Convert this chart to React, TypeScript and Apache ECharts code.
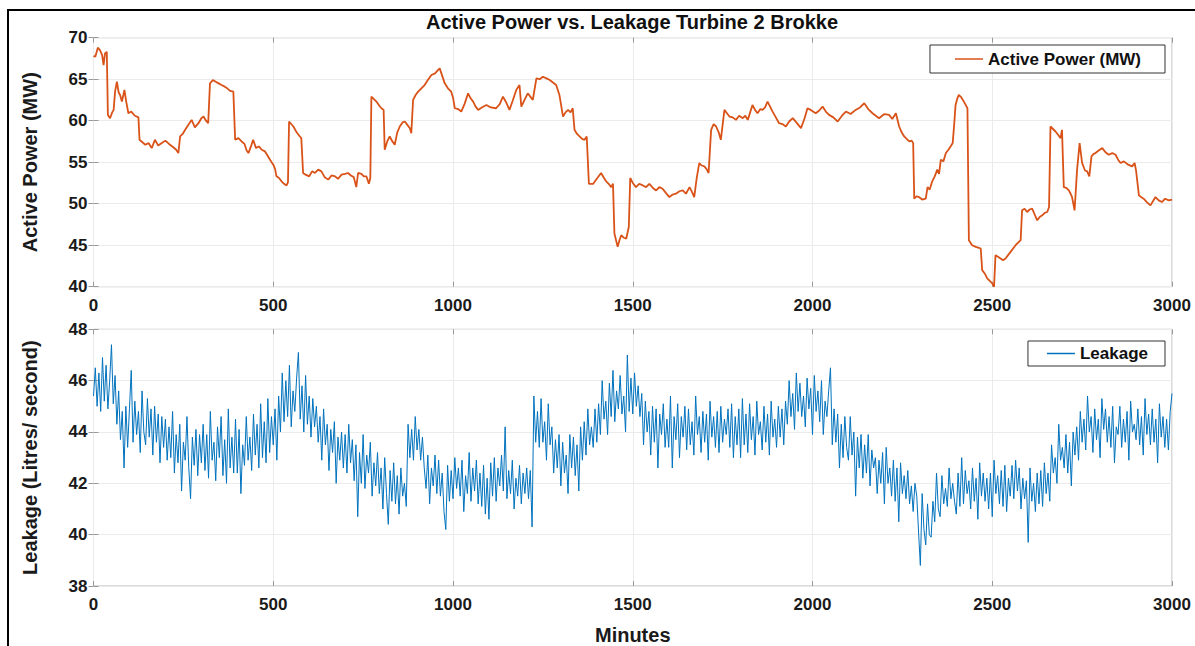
import React, { useEffect, useRef } from "react";
import * as echarts from "echarts";

const titleText = "Active Power vs. Leakage Turbine 2 Brokke";
const powerName = "Active Power (MW)";
const leakName = "Leakage";
const powerAxisName = "Active Power (MW)";
const leakAxisName = "Leakage (Litres/ second)";
const xAxisName = "Minutes";

// Active power: [minute, MW]
const powerData: number[][] = [
  [0,67.8],[5,67.7],[12,68.8],[18,68.5],[24,67.9],[28,66.7],[32,68.1],[37,68.3],[40,60.7],[46,60.3],[52,61.0],[56,61.3],[60,63.5],[65,64.7],[70,63.4],[74,63.1],[79,62.3],[86,63.7],[91,62.3],[97,60.9],[105,61.1],[115,60.6],[125,60.4],[128,57.7],[136,57.4],[144,57.1],[153,57.3],[162,56.7],[171,57.7],[180,57.0],[190,57.3],[200,57.6],[210,57.2],[222,56.8],[230,56.5],[236,56.1],[241,58.1],[248,58.4],[255,58.9],[264,59.5],[273,60.1],[282,59.2],[292,59.7],[300,60.3],[306,60.5],[313,60.0],[319,59.7],[324,64.5],[332,64.9],[340,64.7],[348,64.5],[356,64.3],[365,64.1],[372,63.9],[380,63.6],[389,63.5],[394,57.7],[403,57.9],[412,57.5],[420,57.2],[426,56.4],[431,56.1],[438,56.9],[444,57.7],[452,56.7],[460,56.9],[468,56.5],[477,56.3],[484,55.8],[491,55.3],[500,54.7],[505,54.2],[509,53.3],[516,53.1],[523,52.7],[530,52.4],[537,52.2],[541,52.6],[544,59.9],[550,59.6],[556,59.3],[565,58.6],[574,58.1],[578,57.9],[583,53.7],[590,53.5],[600,53.3],[608,53.9],[616,53.7],[625,54.1],[634,53.9],[643,53.2],[653,52.9],[662,53.4],[672,53.3],[680,53.0],[690,53.5],[700,53.6],[708,53.7],[716,53.4],[724,53.2],[731,52.0],[736,53.7],[745,53.6],[752,53.3],[759,53.3],[766,52.4],[770,53.1],[773,62.9],[780,62.6],[787,62.3],[795,61.8],[801,61.5],[807,61.3],[810,56.5],[817,57.5],[824,58.1],[830,57.6],[838,57.1],[845,58.6],[852,59.3],[860,59.8],[866,59.9],[873,59.5],[880,59.1],[884,58.5],[889,62.5],[896,63.1],[903,63.5],[912,63.9],[921,64.3],[930,64.9],[940,65.5],[950,65.7],[958,66.1],[963,66.3],[970,65.4],[977,64.5],[986,63.9],[995,63.5],[1000,62.8],[1005,61.5],[1014,61.4],[1023,61.1],[1032,62.0],[1042,63.3],[1049,62.7],[1056,62.3],[1063,61.7],[1070,61.3],[1080,61.6],[1093,61.9],[1105,61.6],[1120,61.5],[1130,62.0],[1139,62.9],[1148,62.2],[1157,61.3],[1166,62.4],[1176,63.7],[1185,64.3],[1190,61.7],[1200,62.6],[1208,63.3],[1215,62.9],[1222,62.5],[1232,65.1],[1241,65.0],[1250,65.3],[1260,65.1],[1269,64.9],[1278,64.6],[1287,64.3],[1296,63.1],[1306,60.5],[1313,61.0],[1320,61.3],[1327,61.0],[1333,61.5],[1338,58.9],[1345,58.4],[1352,58.1],[1359,57.8],[1366,57.7],[1372,58.1],[1378,52.4],[1390,52.4],[1400,53.0],[1412,53.7],[1420,53.1],[1426,52.7],[1433,52.4],[1440,52.0],[1445,52.4],[1449,46.4],[1458,44.8],[1463,45.6],[1468,46.2],[1475,45.9],[1482,45.8],[1489,47.2],[1493,53.1],[1500,52.5],[1509,52.0],[1518,52.4],[1528,52.2],[1537,52.0],[1546,52.4],[1556,51.9],[1565,51.6],[1574,52.0],[1583,51.8],[1592,51.3],[1602,50.8],[1611,51.1],[1620,51.2],[1630,51.5],[1639,51.6],[1648,51.2],[1658,52.0],[1665,51.4],[1671,50.8],[1678,53.1],[1685,54.9],[1692,54.6],[1699,54.5],[1705,54.2],[1711,53.7],[1718,58.9],[1725,59.6],[1732,59.3],[1739,58.6],[1745,57.7],[1755,61.3],[1762,60.9],[1769,60.5],[1778,60.4],[1787,60.1],[1796,60.6],[1806,60.3],[1813,60.6],[1820,60.1],[1833,61.9],[1840,61.3],[1847,60.9],[1855,61.4],[1861,61.3],[1868,61.6],[1875,62.3],[1882,61.7],[1889,61.1],[1898,60.4],[1907,59.7],[1916,59.6],[1926,59.3],[1935,59.9],[1945,60.3],[1955,59.8],[1968,59.1],[1978,60.3],[1986,61.5],[1995,61.3],[2009,60.9],[2018,61.2],[2028,61.7],[2037,61.1],[2046,60.7],[2058,60.4],[2070,59.9],[2082,60.6],[2093,61.1],[2106,60.8],[2120,61.3],[2132,61.6],[2144,62.1],[2155,61.4],[2167,60.9],[2176,60.6],[2185,60.3],[2200,60.8],[2213,60.7],[2222,60.2],[2232,60.9],[2241,59.3],[2248,58.6],[2255,58.1],[2262,57.8],[2269,57.5],[2276,57.6],[2280,57.3],[2283,50.6],[2290,50.9],[2296,50.8],[2305,50.5],[2315,50.6],[2320,52.0],[2326,51.7],[2333,52.7],[2340,53.3],[2347,54.1],[2352,53.6],[2357,55.3],[2364,55.1],[2371,56.1],[2378,56.5],[2384,56.9],[2390,57.3],[2394,59.5],[2398,61.9],[2403,62.7],[2407,63.1],[2414,62.8],[2421,62.3],[2426,61.9],[2431,61.5],[2435,45.6],[2444,45.0],[2454,44.8],[2461,44.7],[2468,44.6],[2472,42.0],[2479,41.6],[2486,41.0],[2493,40.7],[2500,40.4],[2505,40.0],[2509,43.8],[2516,43.6],[2523,43.4],[2530,43.2],[2537,43.4],[2544,43.8],[2551,44.2],[2558,44.6],[2565,45.0],[2572,45.3],[2579,45.6],[2583,49.2],[2590,49.4],[2597,49.0],[2604,49.3],[2611,49.4],[2618,48.7],[2625,48.0],[2632,48.4],[2639,48.6],[2646,48.9],[2653,49.0],[2658,49.6],[2662,59.3],[2669,59.0],[2676,58.7],[2683,58.3],[2690,57.9],[2694,58.9],[2699,52.0],[2706,51.9],[2713,51.6],[2718,51.2],[2722,50.8],[2729,49.2],[2736,54.1],[2743,57.3],[2750,54.9],[2758,54.0],[2764,53.9],[2770,53.3],[2776,55.7],[2782,56.0],[2787,56.1],[2796,56.4],[2806,56.7],[2815,56.2],[2824,55.9],[2834,56.1],[2843,55.9],[2850,55.3],[2857,54.9],[2866,55.1],[2878,54.7],[2889,54.5],[2896,54.9],[2900,54.0],[2908,51.0],[2914,50.8],[2921,50.6],[2930,50.2],[2940,49.8],[2947,50.3],[2954,50.8],[2963,50.4],[2972,50.2],[2981,50.6],[2991,50.4],[3000,50.5]
];

// Leakage sampled every 5 minutes (0..3000), litres/second; one row = 100 minutes
const leakStep = 5;
const leakValues: number[] = [
  45.4,46.5,45.0,46.3,44.8,46.9,45.2,46.6,44.9,46.0,47.4,45.1,46.2,44.3,45.6,43.7,44.8,42.6,45.0,43.4,
  44.9,46.4,43.6,45.2,43.9,44.8,43.2,45.6,44.0,43.5,45.3,43.8,44.9,43.1,45.0,43.6,44.7,42.8,44.6,43.4,
  44.5,42.9,44.2,43.0,44.8,42.4,43.9,42.8,44.3,41.7,43.6,42.9,44.6,42.6,41.4,43.8,42.7,44.1,42.3,43.9,
  42.8,44.3,42.5,43.9,42.2,44.8,42.9,43.6,42.1,44.2,43.0,44.6,42.3,43.7,42.0,44.9,42.6,43.8,42.4,44.5,
  42.4,44.1,41.6,43.5,42.7,44.6,42.9,43.8,42.5,44.7,43.1,44.3,42.6,45.1,43.0,44.4,42.8,45.3,43.2,44.6,
  43.5,44.9,42.9,45.4,44.0,46.3,44.4,46.0,44.6,46.6,44.2,45.6,44.8,46.1,47.1,44.5,45.8,44.0,46.2,44.3,
  45.4,43.8,45.3,44.2,45.0,43.6,44.6,42.9,44.9,43.5,44.3,42.5,44.1,43.2,44.4,42.0,43.8,42.9,44.0,42.6,
  43.9,42.4,44.3,42.8,43.7,42.1,43.5,40.7,43.2,42.0,43.9,41.8,43.1,42.4,43.6,41.5,42.8,41.9,43.2,41.6,
  42.6,41.0,43.0,41.6,40.4,42.5,41.3,42.8,41.2,42.3,40.8,42.6,41.5,42.0,41.1,44.3,43.0,44.1,42.9,44.6,
  43.3,44.1,42.9,43.8,42.6,41.8,43.1,41.2,42.6,41.9,43.1,41.6,42.9,41.5,42.4,40.9,40.2,42.7,41.3,42.5,
  41.4,43.0,41.8,42.6,41.5,42.9,40.9,42.3,41.6,43.2,41.3,42.6,41.7,42.9,41.2,42.4,41.1,42.7,40.8,42.2,
  40.6,42.8,41.5,43.0,41.3,42.6,41.9,43.1,41.7,44.2,41.4,42.5,41.6,42.9,41.0,42.2,41.5,42.7,41.2,42.4,
  41.6,42.6,41.4,42.5,40.3,45.4,43.6,44.8,43.4,45.3,43.6,44.4,42.9,45.1,43.5,44.2,42.4,43.7,42.6,43.9,
  41.9,43.6,42.4,43.1,41.6,43.9,42.6,43.8,42.3,43.5,41.7,44.2,42.9,44.4,43.1,44.9,43.5,44.2,43.4,44.9,
  43.6,45.1,43.9,46.0,44.5,45.2,43.9,45.9,44.6,46.4,44.4,45.6,44.9,46.2,44.7,45.4,44.0,47.0,44.8,46.1,
  44.7,46.3,45.0,45.8,44.6,45.5,43.5,45.2,44.0,44.8,43.1,45.0,43.6,44.9,42.6,44.7,43.9,45.1,43.4,44.5,
  43.4,45.4,42.6,44.6,43.7,45.1,43.0,44.6,43.8,45.0,43.3,44.9,43.5,44.4,43.1,45.4,43.9,44.6,43.2,44.8,
  43.6,44.7,42.9,45.2,43.8,44.6,43.4,44.8,43.2,45.0,43.6,44.5,43.9,44.9,43.4,45.1,43.0,44.6,43.5,44.9,
  43.0,45.3,43.5,44.7,43.2,45.1,43.7,44.6,43.1,45.2,43.9,44.4,43.3,45.0,43.6,44.7,43.1,45.2,43.8,44.5,
  43.4,45.0,43.8,44.9,43.5,45.2,44.3,46.0,44.6,45.5,44.1,46.3,44.8,45.9,44.6,45.4,44.2,46.1,44.9,45.7,
  43.9,46.2,44.8,45.6,44.4,46.0,43.9,45.2,44.6,45.6,46.5,43.5,44.9,43.6,44.7,42.6,44.3,43.0,44.6,43.4,
  42.9,44.6,43.1,44.0,41.5,43.8,42.6,43.9,42.2,43.5,42.4,43.9,41.9,43.3,42.6,43.0,41.6,42.9,42.0,43.2,
  41.2,43.4,42.0,42.6,41.5,42.9,41.3,42.6,40.5,42.8,41.6,42.3,41.4,42.5,41.2,41.9,40.9,42.0,41.5,40.1,
  38.8,41.6,40.2,39.6,41.2,40.0,39.9,41.3,40.5,42.4,41.0,40.7,42.3,41.2,41.8,41.1,42.6,41.4,42.0,41.3,
  40.8,42.4,41.1,43.0,41.2,42.5,41.6,42.1,41.0,42.6,41.3,42.2,40.6,42.8,41.5,42.4,41.3,42.2,41.0,42.4,
  40.7,42.9,41.6,42.3,41.2,42.5,41.1,42.7,40.9,42.2,41.5,42.7,41.4,42.9,41.7,42.6,41.0,42.2,41.4,42.1,
  39.7,42.6,41.3,42.0,40.9,42.4,41.2,42.5,41.1,42.8,41.6,42.4,41.3,43.5,42.4,43.0,42.0,44.3,42.9,43.4,
  42.6,43.9,42.4,43.6,41.9,44.0,43.1,44.2,42.9,44.8,43.6,44.5,43.3,45.4,44.0,44.6,43.2,44.9,43.7,44.5,
  43.0,45.3,44.1,44.9,43.6,44.6,43.4,45.0,42.8,44.2,43.9,45.0,43.4,44.5,43.6,44.8,42.9,45.2,44.0,44.3,
  43.7,44.9,43.5,44.6,43.1,45.3,43.9,44.7,43.5,44.9,43.6,44.5,42.8,45.1,43.8,44.6,43.4,44.5,43.3,44.8,
  45.5
];

const xTicks = { min: 0, max: 3000, interval: 500 };
const powerTicks = { min: 40, max: 70, interval: 5 };
const leakTicks = { min: 38, max: 48, interval: 2 };

const ORANGE = "#D95319";
const BLUE = "#0072BD";
const FONT = "'Liberation Sans', Arial, Helvetica, sans-serif";

export default function App() {
  const ref = useRef<HTMLDivElement>(null);
  useEffect(() => {
    if (!ref.current) return;
    const chart = echarts.init(ref.current, undefined, { renderer: "svg" });
    const leakData = leakValues.map((v, i) => [i * leakStep, v]);

    const gridL = 93.5;
    const gridW = 1078.5;
    const grids = [
      { left: gridL, top: 37.7, width: gridW, height: 249, show: true, borderColor: "#b4b4b4", borderWidth: 1, backgroundColor: "#fff" },
      { left: gridL, top: 329.3, width: gridW, height: 258.4, show: true, borderColor: "#b4b4b4", borderWidth: 1, backgroundColor: "#fff" },
    ];
    const fmt = (v: number) => String(v);
    const tickLabel = { color: "#1a1a1a", fontFamily: FONT, fontWeight: "bold" as const, fontSize: 17, formatter: fmt };
    const splitLine = { show: true, lineStyle: { color: "#ebebeb", width: 1 } };
    const tick = { show: true, inside: true, length: 5, lineStyle: { color: "#9a9a9a" } };
    const nameStyle = { color: "#1a1a1a", fontFamily: FONT, fontWeight: "bold", fontSize: 20 };
    const mkX = (gi: number, withName: boolean) => ({
      type: "value",
      gridIndex: gi,
      ...xTicks,
      position: "bottom",
      axisLine: { show: false },
      axisTick: tick,
      axisLabel: { ...tickLabel, margin: 10 },
      splitLine,
      name: withName ? xAxisName : "",
      nameLocation: "middle",
      nameGap: 39,
      nameTextStyle: nameStyle,
    });
    const mkXTop = (gi: number) => ({
      type: "value",
      gridIndex: gi,
      ...xTicks,
      position: "top",
      axisLine: { show: false },
      axisTick: tick,
      axisLabel: { show: false },
      splitLine: { show: false },
    });
    const mkY = (gi: number, ticks: any, name: string) => ({
      type: "value",
      gridIndex: gi,
      ...ticks,
      position: "left",
      axisLine: { show: false },
      axisTick: tick,
      axisLabel: { ...tickLabel, margin: 6 },
      splitLine,
      name,
      nameLocation: "middle",
      nameGap: 54,
      nameTextStyle: nameStyle,
    });
    const mkYRight = (gi: number, ticks: any) => ({
      type: "value",
      gridIndex: gi,
      ...ticks,
      position: "right",
      axisLine: { show: false },
      axisTick: tick,
      axisLabel: { show: false },
      splitLine: { show: false },
    });

    const legendText = { color: "#111", fontFamily: FONT, fontWeight: "bold" as const, fontSize: 17, lineHeight: 18 };

    chart.setOption({
      animation: false,
      backgroundColor: "#fff",
      grid: grids,
      xAxis: [mkX(0, false), mkX(1, true), mkXTop(0), mkXTop(1)],
      yAxis: [mkY(0, powerTicks, powerAxisName), mkY(1, leakTicks, leakAxisName), mkYRight(0, powerTicks), mkYRight(1, leakTicks)],
      legend: [
        {
          data: [{ name: powerName, icon: "rect" }],
          right: 30,
          top: 45,
          itemWidth: 28,
          itemHeight: 1.5,
          itemGap: 5,
          padding: [5, 24, 5, 25],
          borderColor: "#333",
          borderWidth: 1,
          backgroundColor: "#fff",
          textStyle: legendText,
        },
        {
          data: [{ name: leakName, icon: "rect" }],
          right: 30,
          top: 341,
          itemWidth: 28,
          itemHeight: 1.5,
          itemGap: 5,
          padding: [3.5, 17, 3.5, 19],
          borderColor: "#333",
          borderWidth: 1,
          backgroundColor: "#fff",
          textStyle: legendText,
        },
      ],
      graphic: [
        {
          type: "polyline",
          shape: { points: [[8, 646], [8, 10], [1195, 10]] },
          style: { stroke: "#000", lineWidth: 2, fill: "none" },
          silent: true,
        },
        {
          type: "text",
          x: 632,
          y: 22,
          style: {
            text: titleText,
            fill: "#111",
            font: `bold 20px ${FONT}`,
            textAlign: "center",
            textVerticalAlign: "middle",
          },
        },
      ],
      series: [
        {
          name: powerName,
          type: "line",
          xAxisIndex: 0,
          yAxisIndex: 0,
          data: powerData,
          symbol: "none",
          lineStyle: { color: ORANGE, width: 1.8 },
          itemStyle: { color: ORANGE },
        },
        {
          name: leakName,
          type: "line",
          xAxisIndex: 1,
          yAxisIndex: 1,
          data: leakData,
          symbol: "none",
          lineStyle: { color: BLUE, width: 1 },
          itemStyle: { color: BLUE },
        },
      ],
    });
    return () => chart.dispose();
  }, []);
  return <div ref={ref} style={{ position: "fixed", left: 0, top: 0, width: 1195, height: 646 }} />;
}
